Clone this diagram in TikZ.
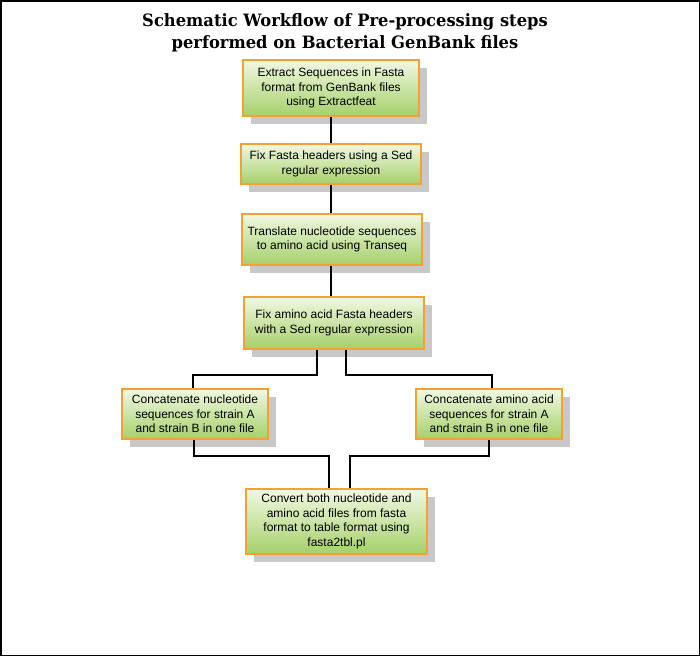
\documentclass[tikz,border=0pt]{standalone}
\usepackage{fontspec}
\setmainfont{Liberation Sans}
\newfontfamily\titlefont[FakeStretch=0.96]{DejaVu Serif}
\usetikzlibrary{shadows}
\definecolor{boxborder}{HTML}{F5A033}
\definecolor{boxtop}{HTML}{F0F8E2}
\definecolor{boxbottom}{HTML}{A6D06A}
\definecolor{shadowgray}{HTML}{C8C8C8}
\tikzset{
  stepbox/.style={draw=boxborder, line width=1.6pt, rectangle, top color=boxtop, bottom color=boxbottom,
    align=center, inner sep=1pt, font=\fontsize{12}{14.5}\selectfont,
    drop shadow={shadow xshift=8pt, shadow yshift=-8pt, fill=shadowgray, opacity=1}},
  link/.style={draw=black, line width=1.6pt}
}
\begin{document}
\begin{tikzpicture}[x=1pt,y=-1pt]
\useasboundingbox (0,0) rectangle (700,656);
\draw[line width=1.5pt] (0.75,0.75) rectangle (699.25,655.25);
\node[font=\titlefont\bfseries\fontsize{17}{22}\selectfont, align=center] (title) at (345,33)
  {Schematic Workflow of Pre-processing steps\\performed on Bacterial GenBank files};
\node[stepbox, minimum width=176pt, minimum height=56pt] (b1) at (331,88)
  {Extract Sequences in Fasta\\format from GenBank files\\using Extractfeat};
\node[stepbox, minimum width=180pt, minimum height=40pt] (b2) at (331,164)
  {Fix Fasta headers using a Sed\\regular expression};
\node[stepbox, minimum width=180pt, minimum height=51pt] (b3) at (332,239.5)
  {Translate nucleotide sequences\\to amino acid using Transeq};
\node[stepbox, minimum width=180pt, minimum height=52pt] (b4) at (334,323)
  {Fix amino acid Fasta headers\\with a Sed regular expression};
\node[stepbox, minimum width=146pt, minimum height=50pt] (b5) at (195,414)
  {Concatenate nucleotide\\sequences for strain A\\and strain B in one file};
\node[stepbox, minimum width=146pt, minimum height=50pt] (b6) at (489,414)
  {Concatenate amino acid\\sequences for strain A\\and strain B in one file};
\node[stepbox, minimum width=181pt, minimum height=65pt] (b7) at (336.5,521.5)
  {Convert both nucleotide and\\amino acid files from fasta\\format to table format using\\fasta2tbl.pl};
\draw[link] (b1.south) -- (b1.south |- b2.north);
\draw[link] (b2.south) -- (b2.south |- b3.north);
\draw[link] ([xshift=-1pt]b3.south) -- ([xshift=-1pt]b3.south |- b4.north);
\draw[link] ([xshift=-17pt]b4.south) -- ++(0,25) -| ([xshift=-2pt]b5.north);
\draw[link] ([xshift=12pt]b4.south) -- ++(0,25) -| ([xshift=3pt]b6.north);
\draw[link] ([xshift=-1pt]b5.south) -- ++(0,16) -| ([xshift=-7.5pt]b7.north);
\draw[link] (b6.south) -- ++(0,16) -| ([xshift=13.5pt]b7.north);
\end{tikzpicture}
\end{document}
